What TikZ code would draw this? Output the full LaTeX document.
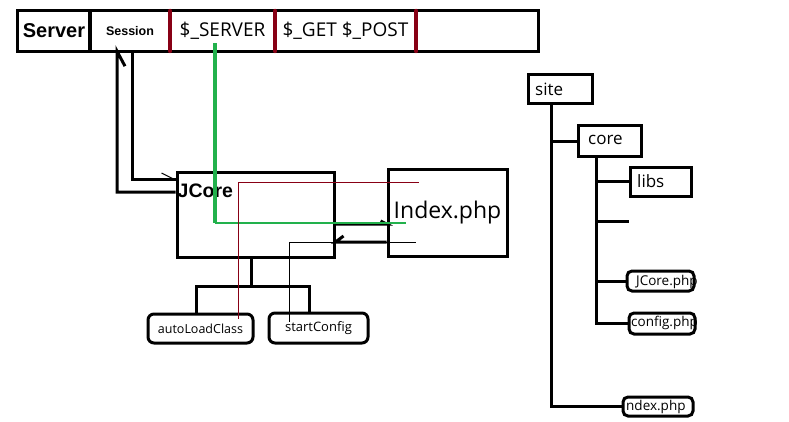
\documentclass[tikz,border=0pt]{standalone}
\usepackage{fontspec}
\setmainfont{Open Sans}
\newfontfamily\arialf{Liberation Sans}
\definecolor{pred}{HTML}{880015}
\definecolor{pgreen}{HTML}{22B14C}
\begin{document}
\begin{tikzpicture}[x=1pt,y=-1pt,
  blk/.style={line width=3pt},
  thinl/.style={line width=1pt},
  cell/.style={inner sep=0pt, minimum height=40pt},
  sqbox/.style={draw, line width=3pt, inner sep=0pt},
  rbox/.style={draw, line width=3pt, rounded corners=6pt, inner sep=0pt},
  lbl/.style={inner sep=0pt, font=\fontsize{17}{20}\selectfont},
  flbl/.style={inner sep=0pt, font=\fontsize{13.5}{16}\selectfont},
  divr/.style={pred, line width=4pt, line cap=round},
]
\fill[white] (0,0) rectangle (789,422);
\useasboundingbox (0,0) rectangle (789,422);

% top bar
\node[cell, minimum width=72pt] (server) at (54,31) {\arialf\bfseries\fontsize{20}{24}\selectfont Server};
\node[cell, minimum width=80pt] (session) at (130,31) {\arialf\bfseries\fontsize{12.5}{15}\selectfont Session};
\node[cell, minimum width=105pt] (srv) at (222.5,31) {\fontsize{19}{22}\selectfont \$\_SERVER};
\node[cell, minimum width=141pt] (get) at (345.5,31) {\fontsize{19}{22}\selectfont \$\_GET \$\_POST};
\node[cell, minimum width=122pt] (rest) at (477,31) {};
\draw[blk] (server.north west) rectangle (rest.south east);
\draw[line width=4pt] (server.north east) -- (server.south east);
\draw[divr] (session.north east) -- (session.south east);
\draw[divr] (srv.north east) -- (srv.south east);
\draw[divr] (get.north east) -- (get.south east);

% JCore and Index
\node[sqbox, minimum width=157pt, minimum height=84pt] (jcore) at (255.5,215) {};
\node[inner sep=0pt, anchor=north west] (jcoret) at ([xshift=2pt,yshift=-12pt]jcore.north west) {\arialf\bfseries\fontsize{19.5}{22}\selectfont JCore};
\node[sqbox, minimum width=119pt, minimum height=86pt, font=\fontsize{23}{27}\selectfont] (index) at (447.5,213) {Index.php};

\node[rbox, minimum width=105pt, minimum height=29pt, font=\fontsize{12.5}{15}\selectfont] (alc) at (200.5,328.5) {autoLoadClass};
\node[rbox, minimum width=99pt, minimum height=30pt, font=\fontsize{13}{15}\selectfont] (sc) at (318.5,328) {startConfig};

% session <-> jcore
\coordinate (sIn) at ([xshift=2pt]session.south);
\coordinate (sOut) at ([xshift=-13pt]session.south);
\coordinate (jIn) at ([yshift=35pt]jcore.west);
\coordinate (jOut) at ([yshift=23pt]jcore.west);
\draw[blk] (sIn) |- (jIn);
\draw[thinl] (jIn) -- ++(-14,-7);
\draw[blk] (jOut) -| (sOut) -- ++(8,15);

% jcore <-> index arrows
\coordinate (u1) at ([yshift=-9pt]jcore.east);
\coordinate (u2) at ([yshift=-27pt]jcore.east);
\draw[blk] (u1) -- (u1 -| index.west) -- ++(-6,-3);
\draw[blk] (u2 -| index.west) -- (u2) -- ++(8,-6);

% jcore tree
\coordinate (jt) at ([xshift=-4.5pt]jcore.south);
\coordinate (jb) at ([xshift=-4.5pt,yshift=-28pt]jcore.south);
\draw[blk] (jt) -- (jb);
\draw[blk] ([xshift=-4.5pt]alc.north) |- (jb) -| ([xshift=-9.5pt]sc.north);

% green line
\coordinate (g1) at ([xshift=-7.5pt,yshift=8pt]srv.south);
\coordinate (g2) at ([xshift=19pt,yshift=-10pt]index.west);
\draw[pgreen, line width=4pt] (g1) -- (g1 |- g2);
\draw[pgreen, line width=1.2pt] (g1 |- g2) -- (g2);

% red thin line
\draw[pred, thinl] ([xshift=37.5pt,yshift=-6pt]alc.north) |- ([xshift=32pt,yshift=30pt]index.west);
% black thin line
\draw[thinl] ([xshift=-29.5pt,yshift=-10pt]sc.north) |- ([xshift=29pt,yshift=-29pt]index.west);

% right tree
\node[sqbox, minimum width=64pt, minimum height=29pt] (site) at (560,89.5) {};
\node[lbl, anchor=west] (sitet) at (535,89) {site};
\node[sqbox, minimum width=63pt, minimum height=31pt] (core) at (609.5,141.5) {};
\node[lbl, anchor=west] (coret) at (588,140) {core};
\node[sqbox, minimum width=61pt, minimum height=28pt] (libs) at (660.5,182) {};
\node[lbl, anchor=west] (libst) at (637,181) {libs};
\node[rbox, rounded corners=5pt, minimum width=67pt, minimum height=20pt] (jcp) at (660.5,281) {};
\node[flbl, anchor=west] (jcpt) at (636,282) {JCore.php};
\node[rbox, rounded corners=5pt, minimum width=66pt, minimum height=21pt] (cfg) at (662,323.5) {};
\node[flbl, anchor=west] (cfgt) at (631,323) {config.php};
\node[rbox, rounded corners=5pt, minimum width=70pt, minimum height=19pt] (idx) at (658,406.5) {};
\node[flbl, anchor=west] (idxt) at (626,407) {ndex.php};

\coordinate (st) at ([xshift=-9pt]site.south);
\draw[blk] (st) |- (idx.west);
\draw[blk] (st |- core.west) -- (core.west);
\coordinate (ct) at ([xshift=-13.5pt]core.south);
\coordinate (emp) at ([yshift=-39pt]libs.west);
\draw[blk] (ct) |- (cfg.west);
\draw[blk] (ct |- libs.west) -- (libs.west);
\draw[blk] (ct |- emp) -- (emp);
\draw[blk] (ct |- jcp.west) -- (jcp.west);
\end{tikzpicture}
\end{document}
